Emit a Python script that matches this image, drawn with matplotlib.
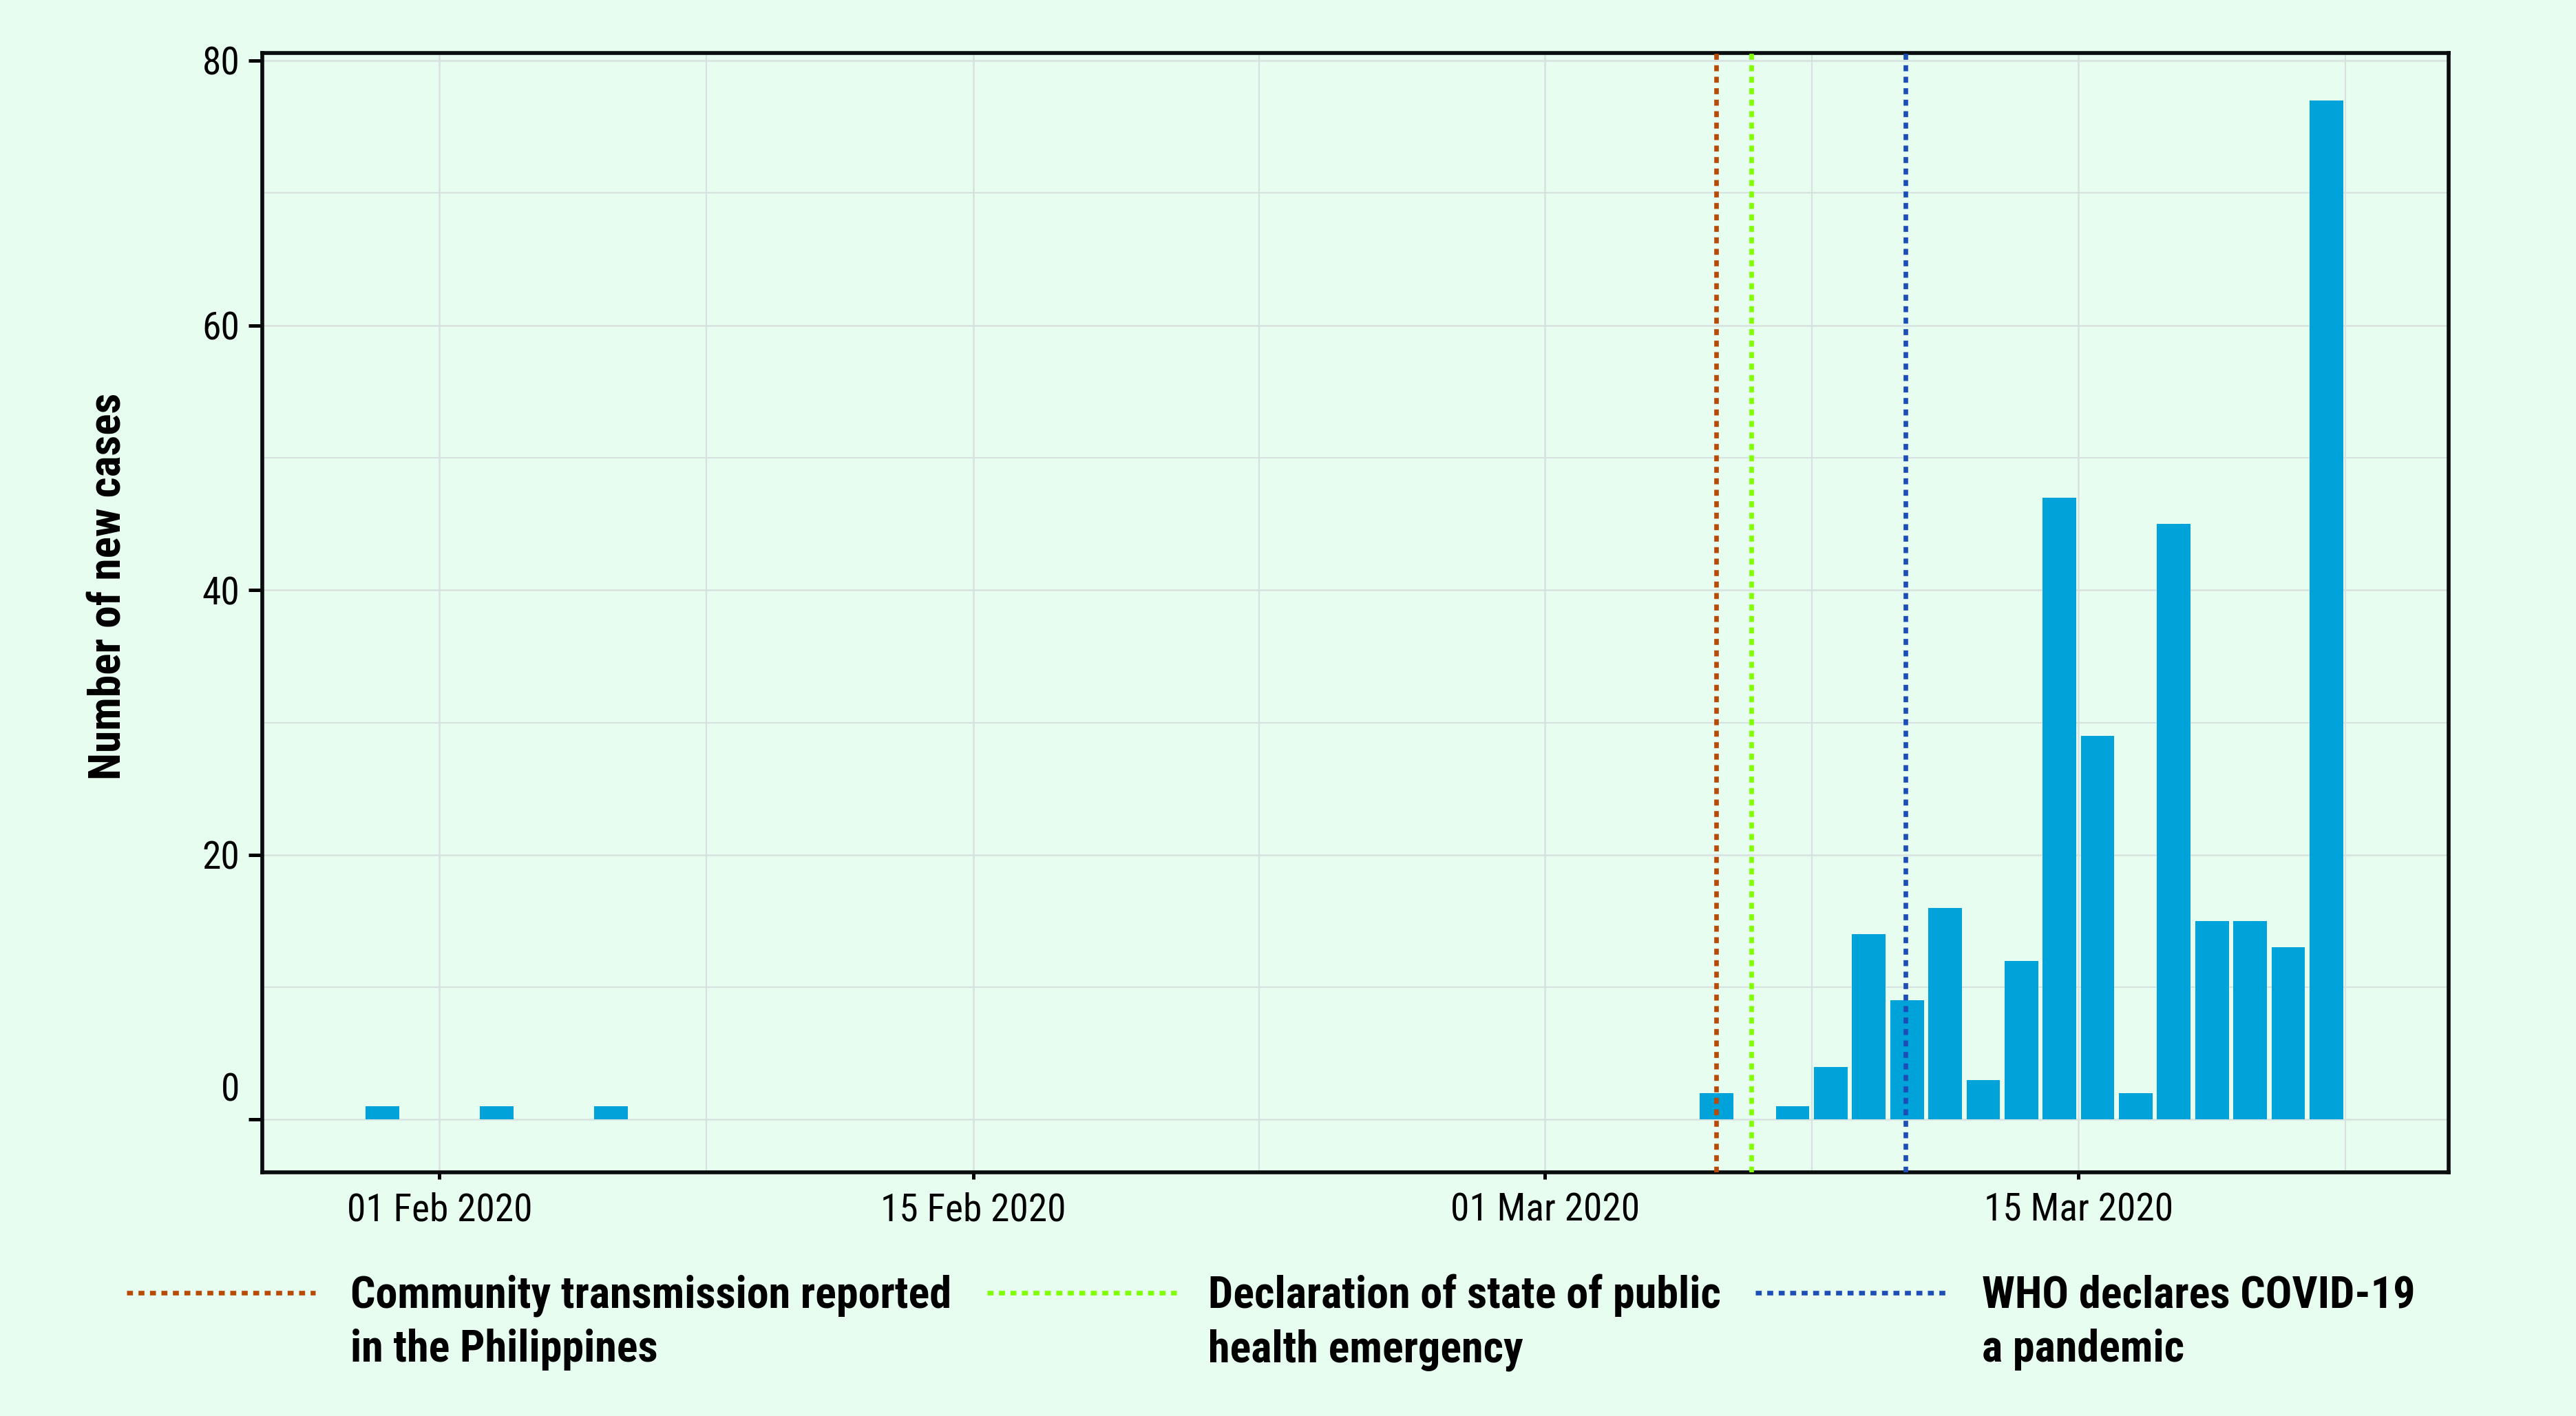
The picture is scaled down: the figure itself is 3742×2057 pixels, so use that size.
import numpy as np
import pandas as pd
import matplotlib
matplotlib.use("Agg")
import matplotlib.pyplot as plt
import matplotlib.dates as mdates
import matplotlib.transforms as mtransforms
from matplotlib import font_manager
from matplotlib.lines import Line2D

# daily new confirmed cases
case_dates = ["2020-01-30", "2020-02-02", "2020-02-05", "2020-03-05", "2020-03-07",
              "2020-03-08", "2020-03-09", "2020-03-10", "2020-03-11", "2020-03-12",
              "2020-03-13", "2020-03-14", "2020-03-15", "2020-03-16", "2020-03-17",
              "2020-03-18", "2020-03-19", "2020-03-20", "2020-03-21"]
new_cases = [1, 1, 1, 2, 1, 4, 14, 9, 16, 3, 12, 47, 29, 2, 45, 15, 15, 13, 77]

event_times = ["2020-03-05 12:00", "2020-03-06 10:00", "2020-03-10 11:00"]
event_labels = ["Community transmission reported\nin the Philippines",
                "Declaration of state of public\nhealth emergency",
                "WHO declares COVID-19\na pandemic"]
event_colors = ["#B94A06", "#7FFF00", "#1D4DB6"]

x_breaks = ["2020-02-01", "2020-02-15", "2020-03-01", "2020-03-15"]
y_breaks = [0, 20, 40, 60, 80]

BG = "#E7FDF0"
BAR = "#00A2DA"
GRID = "#D6E1E0"

avail = {f.name for f in font_manager.fontManager.ttflist}
narrow = next((f for f in ["Roboto Condensed", "Liberation Sans Narrow", "Open Sans Condensed"]
               if f in avail), "Liberation Sans")
plt.rcParams["font.family"] = [narrow, "DejaVu Sans"]

W, H, DPI = 3742, 2057, 300
fig = plt.figure(figsize=(W / DPI, H / DPI), dpi=DPI, facecolor=BG)
ax = fig.add_axes([381 / W, 1 - 1703 / H, (3557 - 381) / W, (1703 - 77) / H])
ax.set_facecolor(BG)

bar_x = pd.to_datetime(case_dates) + pd.Timedelta(hours=12)
ax.bar(mdates.date2num(bar_x), new_cases, width=0.88, color=BAR, zorder=3)

for t, c in zip(event_times, event_colors):
    ax.axvline(mdates.date2num(pd.Timestamp(t)), color=c, lw=1.6,
               linestyle=(0, (1.3, 1.2)), zorder=4)

# axes limits
ax.set_xlim(mdates.date2num(pd.Timestamp("2020-01-27 08:30")),
            mdates.date2num(pd.Timestamp("2020-03-24 17:00")))
ax.set_ylim(-3.98, 80.57)

major = mdates.date2num(pd.to_datetime(x_breaks))
minor = list((major[:-1] + major[1:]) / 2) + [major[-1] + (major[-1] - major[-2]) / 2]
ax.set_xticks(major)
ax.set_xticklabels([pd.Timestamp(d).strftime("%d %b %Y") for d in x_breaks])
ax.set_xticks(minor, minor=True)
ax.set_yticks(y_breaks)
ax.set_yticks([10, 30, 50, 70], minor=True)

ax.grid(which="major", color=GRID, lw=0.6, zorder=0)
ax.grid(which="minor", color=GRID, lw=0.5, zorder=0)
ax.set_axisbelow(True)

for s in ax.spines.values():
    s.set_linewidth(1.35)
    s.set_color("#0A0D0D")

ax.tick_params(axis="x", which="major", length=2.3, width=1.2, pad=4.5, labelsize=13.3, colors="black")
ax.tick_params(axis="y", which="major", length=4.8, width=1.2, pad=3, labelsize=13.3, colors="black")
ax.tick_params(which="minor", length=0)

# the zero label sits above its tick in the original
zero_lab = ax.get_yticklabels()[0]
zero_lab.set_transform(zero_lab.get_transform() +
                       mtransforms.ScaledTranslation(0, 11.5 / 72, fig.dpi_scale_trans))

fig.text(157 / W, 1 - 852 / H, "Number of new cases", rotation=90, ha="center", va="center",
         fontsize=15.7, fontweight="bold")

# legend below the plot
handle_x = [(184, 458), (1434, 1709), (2550, 2826)]
text_x = [509, 1755, 2879]
for (x0, x1), tx, c, lab in zip(handle_x, text_x, event_colors, event_labels):
    fig.add_artist(Line2D([x0 / W, x1 / W], [1 - 1878 / H] * 2, transform=fig.transFigure,
                          color=c, lw=1.6, linestyle=(0, (1.3, 1.2))))
    fig.text(tx / W, 1 - 1978 / H, lab, ha="left", va="baseline", fontsize=15.4,
             fontweight="bold", linespacing=1.36)

fig.savefig("out.png", dpi=DPI, facecolor=BG)
